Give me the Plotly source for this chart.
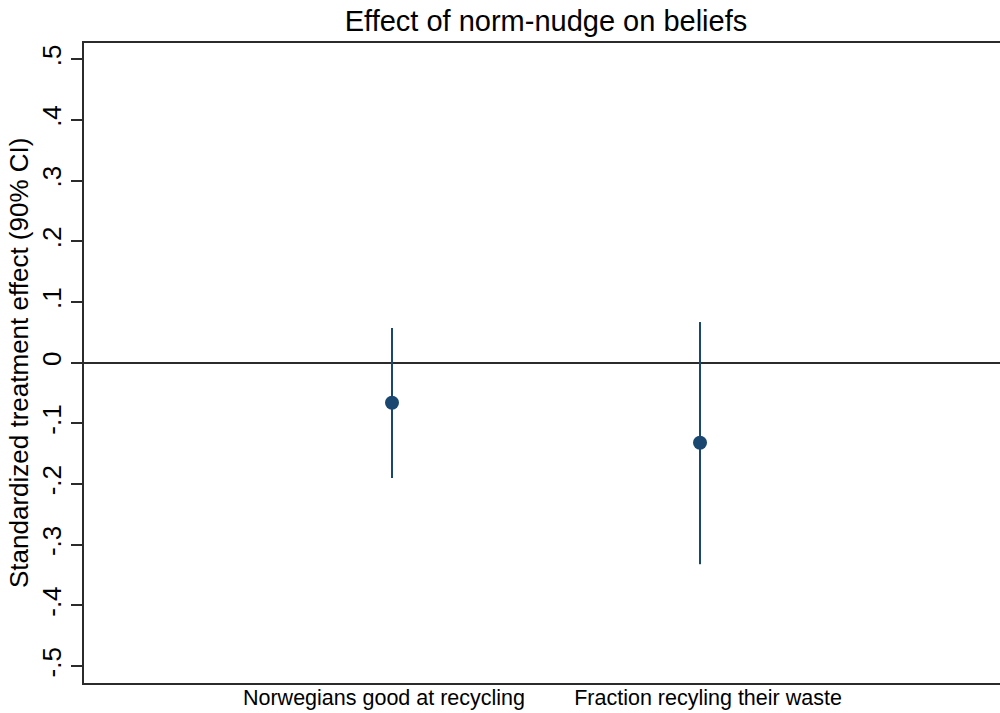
import plotly.graph_objects as go

# Outcomes and their standardized treatment effects with 90% CIs
outcomes = ["Norwegians good at recycling", "Fraction recyling their waste"]
positions = [1, 2]
effects = [-0.066, -0.132]
ci_low = [-0.190, -0.332]
ci_high = [0.057, 0.067]

y_tickvals = [0.5, 0.4, 0.3, 0.2, 0.1, 0, -0.1, -0.2, -0.3, -0.4, -0.5]
y_ticktext = [".5", ".4", ".3", ".2", ".1", "0", "-.1", "-.2", "-.3", "-.4", "-.5"]

navy = "#1a476f"
axis_col = "#2b2b2b"
font_family = "Liberation Sans, Arial, Helvetica, sans-serif"

err_plus = [h - e for h, e in zip(ci_high, effects)]
err_minus = [e - l for e, l in zip(effects, ci_low)]

fig = go.Figure()
fig.add_trace(go.Scatter(
    x=positions,
    y=effects,
    mode="markers",
    marker=dict(color=navy, size=14, line=dict(width=0)),
    error_y=dict(type="data", symmetric=False, array=err_plus,
                 arrayminus=err_minus, color=navy, thickness=2, width=0),
    showlegend=False,
    hoverinfo="skip",
))

fig.update_layout(
    width=1000,
    height=713,
    paper_bgcolor="white",
    plot_bgcolor="white",
    margin=dict(l=84, r=0, t=43, b=30),
    font=dict(family=font_family, color="black"),
    title=dict(
        text="Effect of norm-nudge on beliefs",
        font=dict(size=29, color="black"),
        x=0.546, xref="container", xanchor="center",
        y=1 - 21 / 713, yref="container", yanchor="middle",
    ),
    xaxis=dict(
        range=[0, 2.974],
        tickmode="array",
        tickvals=[0.974, 2.026],
        ticktext=outcomes,
        ticks="",
        ticklabelstandoff=-6,
        tickfont=dict(size=21.5, color="black"),
        showgrid=False,
        zeroline=False,
        showline=True,
        linecolor=axis_col,
        linewidth=2,
        mirror=True,
    ),
    yaxis=dict(
        range=[-0.5277, 0.5267],
        tickmode="array",
        tickvals=y_tickvals,
        ticktext=y_ticktext,
        tickangle=-90,
        ticks="outside",
        ticklen=11,
        tickwidth=1.5,
        tickcolor=axis_col,
        ticklabelstandoff=0,
        tickfont=dict(size=26, color="black"),
        showgrid=False,
        zeroline=True,
        zerolinecolor=axis_col,
        zerolinewidth=2,
        showline=True,
        linecolor=axis_col,
        linewidth=2,
        mirror=False,
    ),
    annotations=[dict(
        text="Standardized treatment effect (90% CI)",
        textangle=-90,
        xref="paper", x=(19 - 84) / 916, xanchor="center",
        yref="paper", y=0.5, yanchor="middle",
        showarrow=False,
        font=dict(size=26, color="black"),
    )],
)

fig.write_html("out.html")
